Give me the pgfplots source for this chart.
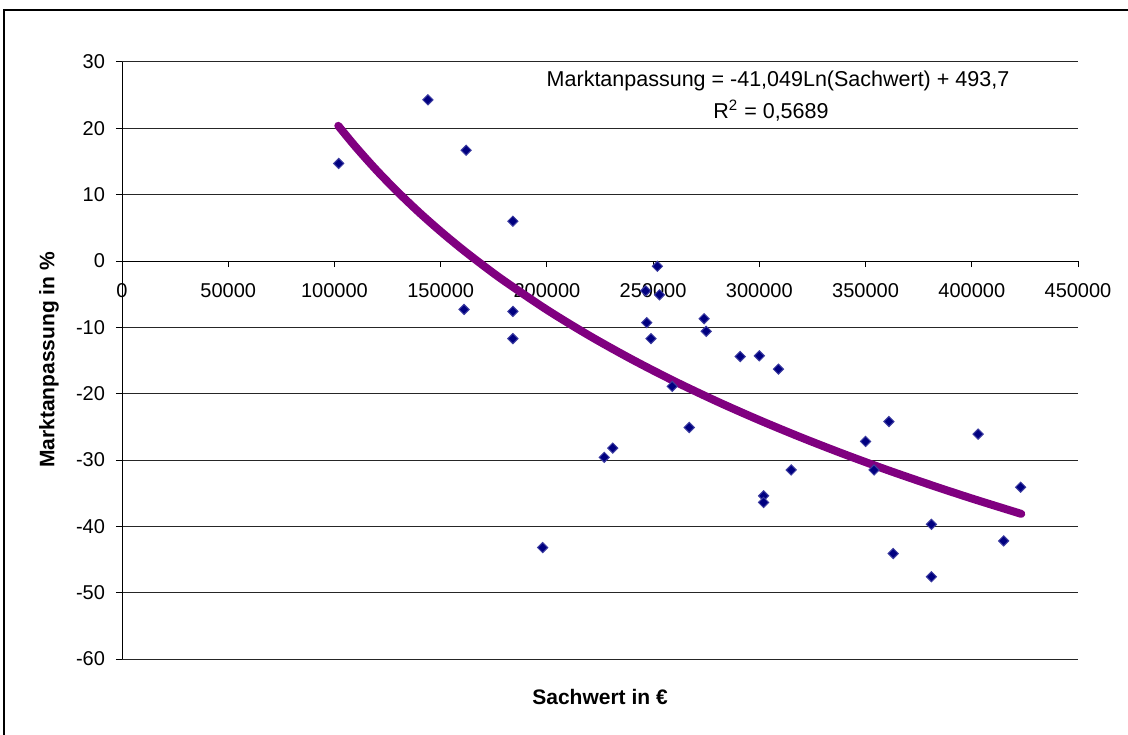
\documentclass[border=0pt]{standalone}
\usepackage{fontspec}
\setmainfont{Liberation Sans}
\usepackage{pgfplots}
\pgfplotsset{compat=1.18}
\definecolor{trend}{RGB}{128,0,128}
\definecolor{mkfill}{RGB}{0,0,128}
\definecolor{mkdraw}{RGB}{60,60,160}
\begin{document}
\begin{tikzpicture}
\useasboundingbox (0,0) rectangle (564pt,367pt);
\draw[line width=1pt] (2pt,-5pt) -- (2pt,362pt) -- (570pt,362pt);
\begin{axis}[
  at={(61pt,37.5pt)}, anchor=south west,
  scale only axis, width=478pt, height=298.5pt,
  xmin=0, xmax=450000, ymin=-60, ymax=30,
  axis x line*=middle, axis y line*=left,
  hide obscured x ticks=false, hide obscured y ticks=false,
  xtick={0,50000,...,450000}, ytick={-60,-50,...,30},
  scaled x ticks=false,
  x tick label style={/pgf/number format/fixed, /pgf/number format/precision=0, /pgf/number format/1000 sep={}, yshift=-4.7pt},
  /pgf/number format/assume math mode=true,
  ticklabel style={font=\fontsize{10}{12}\selectfont},
  y tick label style={xshift=-2pt},
  tick align=outside, major tick length=3pt,
  tick style={black, line width=0.5pt},
  axis line style={black, line width=0.5pt},
  ymajorgrids, grid style={black!85, line width=0.5pt},
  clip=false,
]
\addplot[only marks, mark=square*, mark size=1.8pt, mark options={rotate=45, fill=mkfill, draw=mkdraw, line width=0.5pt}]
coordinates {
(102000,14.7) (144000,24.3) (162000,16.7) (184000,6.0)
(161000,-7.3) (184000,-7.6) (184000,-11.7) (198000,-43.2)
(227000,-29.6) (231000,-28.2) (247000,-9.3) (249000,-11.7)
(252000,-0.8) (246500,-4.5) (253000,-5.1) (274000,-8.7)
(275000,-10.6) (291000,-14.4) (300000,-14.3) (309000,-16.3)
(259000,-18.9) (267000,-25.1) (315000,-31.5) (302000,-35.4)
(302000,-36.4) (350000,-27.2) (354000,-31.5) (361000,-24.2)
(363000,-44.1) (381000,-39.7) (381000,-47.6) (403000,-26.1)
(415000,-42.2) (423000,-34.1)
};
\addplot[trend, line width=4pt, line cap=round, smooth]
coordinates {
(101800,20.38) (110000,17.20) (120000,13.62) (130000,10.34) (140000,7.29)
(150000,4.46) (160000,1.81) (170000,-0.67) (180000,-3.02) (200000,-7.35)
(220000,-11.26) (240000,-14.83) (260000,-18.12) (280000,-21.16)
(300000,-23.99) (320000,-26.64) (340000,-29.13) (360000,-31.48)
(380000,-33.69) (400000,-35.80) (423300,-38.12)
};
\end{axis}
\node[font=\fontsize{10.75}{13}\selectfont] at (389pt,326.5pt) {Marktanpassung = -41,049Ln(Sachwert) + 493,7};
\node[font=\fontsize{10.75}{13}\selectfont] at (385.5pt,311.5pt) {R\textsuperscript{2} = 0,5689};
\node[font=\bfseries\fontsize{10.5}{13}\selectfont] at (300pt,18.5pt) {Sachwert in €};
\node[font=\bfseries\fontsize{10.5}{13}\selectfont, rotate=90] at (24.5pt,187pt) {Marktanpassung in \%};
\end{tikzpicture}
\end{document}
